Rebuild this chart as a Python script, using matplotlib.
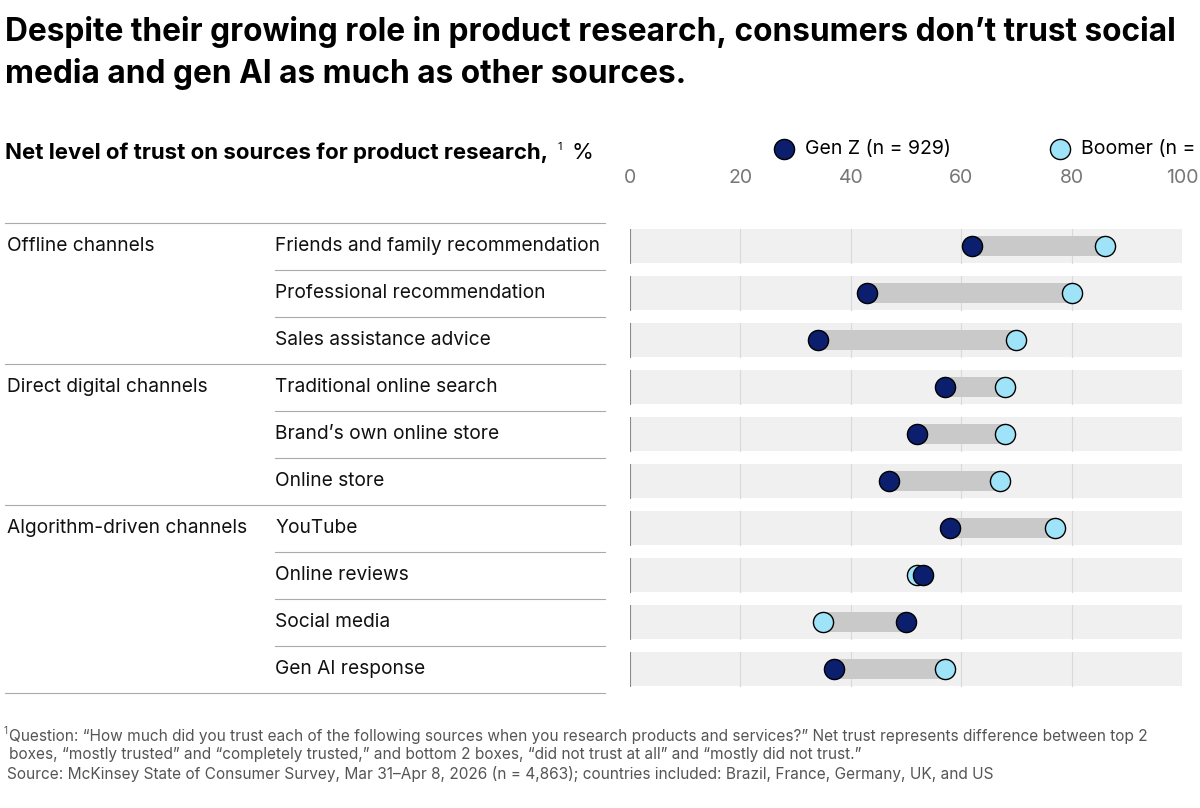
import matplotlib
matplotlib.use("Agg")
import matplotlib.pyplot as plt
from matplotlib.transforms import blended_transform_factory as btf

plt.rcParams['font.family'] = ['Inter', 'DejaVu Sans']

groups = ["Offline channels", "Direct digital channels", "Algorithm-driven channels"]
group_sizes = [3, 3, 4]
sources = ["Friends and family recommendation", "Professional recommendation",
           "Sales assistance advice", "Traditional online search",
           "Brand\u2019s own online store", "Online store", "YouTube",
           "Online reviews", "Social media", "Gen AI response"]
genz = [62, 43, 34, 57, 52, 47, 58, 53, 50, 37]
boomer = [86, 80, 70, 68, 68, 67, 77, 52, 35, 57]
ticks = [0, 20, 40, 60, 80, 100]

W, H = 1200, 808
fig = plt.figure(figsize=(12, 8.08), dpi=100)
ax = fig.add_axes([630/W, 1-692.5/H, 552/W, 470/H])
ax.set_xlim(0, 100)
ax.set_ylim(9.5, -0.5)
ax.axis('off')

navy = "#0c1f6e"
cyan = "#9fe3f8"
n = len(sources)
for i in range(n):
    ax.barh(i, 100, height=0.72, left=0, color="#f0f0f0", zorder=0)
    for t in ticks[1:]:
        ax.plot([t, t], [i-0.36, i+0.36], color="#d9d9d9", lw=0.8, zorder=1)
    ax.plot([0, 0], [i-0.36, i+0.36], color="#888888", lw=0.8, zorder=1)
    lo, hi = min(genz[i], boomer[i]), max(genz[i], boomer[i])
    ax.barh(i, hi-lo, left=lo, height=0.42, color="#c9c9c9", zorder=2)
    ax.plot(boomer[i], i, 'o', ms=14.5, mfc=cyan, mec="black", mew=1, zorder=3)
    ax.plot(genz[i], i, 'o', ms=14.5, mfc=navy, mec="black", mew=1, zorder=4)

for t in ticks:
    ax.text(t, -0.5 - 45/47, str(t), ha='center', va='center', fontsize=14, color="#777777")

tr = btf(fig.transFigure, ax.transData)
for i, s in enumerate(sources):
    ax.text(275/W, i, s, transform=tr, fontsize=13.8, va='center', ha='left', color="#111111")

start = 0
for g, sz in zip(groups, group_sizes):
    ax.text(7/W, start, g, transform=tr, fontsize=13.8, va='center', ha='left', color="#111111")
    ax.plot([5/W, 605/W], [start-0.5, start-0.5], transform=tr, color="#aaaaaa", lw=0.8, clip_on=False)
    for k in range(1, sz):
        ax.plot([275/W, 605/W], [start+k-0.5, start+k-0.5], transform=tr, color="#aaaaaa", lw=0.8, clip_on=False)
    start += sz
ax.plot([5/W, 605/W], [n-0.5, n-0.5], transform=tr, color="#aaaaaa", lw=0.8, clip_on=False)

fig.text(5/W, 1-32/H, "Despite their growing role in product research, consumers don\u2019t trust social",
         fontsize=22.8, fontweight='bold', va='center')
fig.text(5/W, 1-74/H, "media and gen AI as much as other sources.",
         fontsize=22.8, fontweight='bold', va='center')
fig.text(5/W, 1-153/H, "Net level of trust on sources for product research,", fontsize=16,
         fontweight='bold', va='center')
fig.text(558/W, 1-147/H, "1", fontsize=8, va='center')
fig.text(571/W, 1-153/H, "%", fontsize=16, va='center')

fig.lines.append(plt.Line2D([784/W], [1-149/H], marker='o', ms=14.5, mfc=navy, mec='black', transform=fig.transFigure))
fig.text(805/W, 1-149/H, "Gen Z (n = 929)", fontsize=14, va='center')
fig.lines.append(plt.Line2D([1060/W], [1-149/H], marker='o', ms=14.5, mfc=cyan, mec='black', transform=fig.transFigure))
fig.text(1081/W, 1-149/H, "Boomer (n = 1,448)", fontsize=14, va='center')

fc = "#555555"
fig.text(3/W, 1-731/H, "1", fontsize=7, va='center', color=fc)
fig.text(9/W, 1-736/H, "Question: \u201cHow much did you trust each of the following sources when you research products and services?\u201d Net trust represents difference between top 2",
         fontsize=11.1, va='center', color=fc)
fig.text(9/W, 1-755/H, "boxes, \u201cmostly trusted\u201d and \u201ccompletely trusted,\u201d and bottom 2 boxes, \u201cdid not trust at all\u201d and \u201cmostly did not trust.\u201d",
         fontsize=11.1, va='center', color=fc)
fig.text(7/W, 1-774/H, "Source: McKinsey State of Consumer Survey, Mar 31\u2013Apr 8, 2026 (n = 4,863); countries included: Brazil, France, Germany, UK, and US",
         fontsize=11.1, va='center', color=fc)

fig.savefig("out.png", dpi=100)
